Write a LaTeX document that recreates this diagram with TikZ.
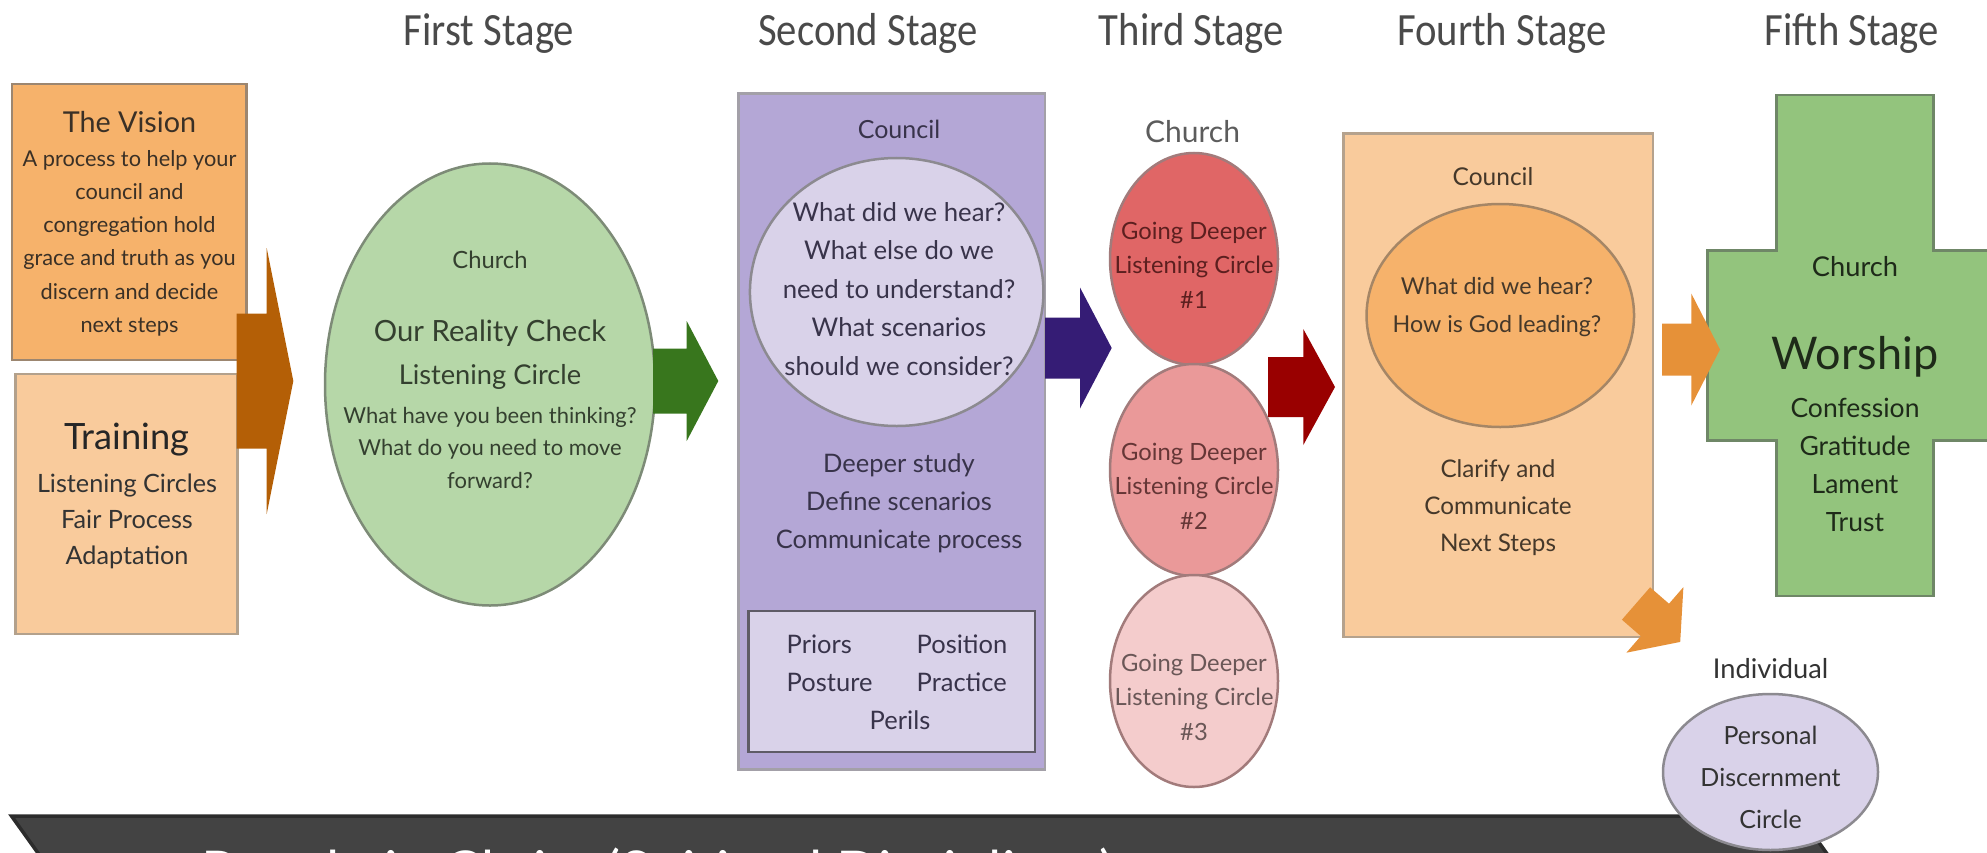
\documentclass[tikz,border=0pt]{standalone}
\usepackage{fontspec}
\setmainfont{Lato}
\newfontfamily\titlefont{Carlito}
\usetikzlibrary{shapes.geometric}
\newcommand\setfs[2]{\fontsize{#1}{#2}\selectfont}
\newcommand\blockarrow[7]{\fill[#1] (#2,#3-#4) -- (#5,#3-#4) -- (#5,#3-#6) -- (#7,#3) -- (#5,#3+#6) -- (#5,#3+#4) -- (#2,#3+#4) -- cycle;}
\definecolor{visionfill}{HTML}{F6B26B}
\definecolor{visionline}{HTML}{9C8670}
\definecolor{trainfill}{HTML}{F9CB9C}
\definecolor{trainline}{HTML}{B3A18C}
\definecolor{brownarrow}{HTML}{B45F06}
\definecolor{greenfill}{HTML}{B6D7A8}
\definecolor{greenline}{HTML}{7D8B77}
\definecolor{greenarrow}{HTML}{38761D}
\definecolor{purplefill}{HTML}{B4A7D6}
\definecolor{purpleline}{HTML}{A3A0A8}
\definecolor{lilac}{HTML}{D9D2E9}
\definecolor{lilacline}{HTML}{8C8A90}
\definecolor{rectline}{HTML}{5E5B66}
\definecolor{purplearrow}{HTML}{351C75}
\definecolor{redA}{HTML}{E06666}
\definecolor{redB}{HTML}{EA9999}
\definecolor{redC}{HTML}{F4CCCC}
\definecolor{redline}{HTML}{A27B7B}
\definecolor{redarrow}{HTML}{990000}
\definecolor{peach}{HTML}{F9CB9C}
\definecolor{peachline}{HTML}{B5A28D}
\definecolor{orangefill}{HTML}{F6B26B}
\definecolor{orangeline}{HTML}{A58666}
\definecolor{orangearrow}{HTML}{E69138}
\definecolor{crossfill}{HTML}{93C47D}
\definecolor{crossline}{HTML}{6F8767}
\definecolor{barfill}{HTML}{434343}
\definecolor{barline}{HTML}{2C2C2C}
\definecolor{titlegray}{HTML}{4A4A4A}
\definecolor{txt}{HTML}{333333}
\definecolor{visiontxt}{HTML}{3A3026}
\definecolor{greentxt}{HTML}{34402F}
\definecolor{purpletxt}{HTML}{38334A}
\definecolor{redtxtA}{HTML}{5C1F1F}
\definecolor{redtxtB}{HTML}{653636}
\definecolor{redtxtC}{HTML}{6A5757}
\definecolor{peachtxt}{HTML}{45382A}
\definecolor{crosstxt}{HTML}{1E2A19}
\begin{document}
\begin{tikzpicture}[x=0.4pt,y=-0.4pt,
  shp/.style={inner sep=0pt,outer sep=0pt,line width=1pt},
  lbl/.style={inner sep=0pt,outer sep=0pt,align=center,text=txt},
  stagetitle/.style={lbl,anchor=base,text=titlegray,font=\titlefont\setfs{18.5pt}{22pt}},
]
\path[use as bounding box] (0,0) rectangle (1987,853);
\clip (0,0) rectangle (1987,853);

% ---------- stage titles
\node[stagetitle] (t1) at (489,46) {\scalebox{0.88}[1]{First Stage}};
\node[stagetitle] (t2) at (868,46) {\scalebox{0.88}[1]{Second Stage}};
\node[stagetitle] (t3) at (1191.5,46) {\scalebox{0.88}[1]{Third Stage}};
\node[stagetitle] (t4) at (1502,46) {\scalebox{0.88}[1]{Fourth Stage}};
\node[stagetitle] (t5) at (1852,46) {\scalebox{0.88}[1]{Fifth Stage}};

% ---------- shapes
\node[shp,rectangle,draw=visionline,fill=visionfill,minimum width=93.9pt,minimum height=110.4pt] (vision) at (129.35,222) {};
\node[shp,rectangle,draw=trainline,fill=trainfill,minimum width=88.6pt,minimum height=104pt] (training) at (126.5,504) {};
\node[shp,ellipse,draw=greenline,fill=greenfill,minimum width=132pt,minimum height=176.8pt] (reality) at (490,384.5) {};
\node[shp,rectangle,draw=purpleline,fill=purplefill,minimum width=122.7pt,minimum height=270.5pt] (council2) at (891.65,431.55) {};
\node[shp,ellipse,draw=lilacline,fill=lilac,minimum width=117.4pt,minimum height=107.2pt] (questions2) at (896.7,292) {};
\node[shp,rectangle,draw=rectline,fill=lilac,minimum width=114.7pt,minimum height=56.4pt] (fivep) at (891.65,681.45) {};
\node[shp,ellipse,draw=redline,fill=redA,minimum width=67.2pt,minimum height=84.8pt] (circle1) at (1194,259) {};
\node[shp,ellipse,draw=redline,fill=redB,minimum width=67.2pt,minimum height=84.8pt] (circle2) at (1194,470) {};
\node[shp,ellipse,draw=redline,fill=redC,minimum width=67.2pt,minimum height=84.8pt] (circle3) at (1194,681) {};
\node[shp,rectangle,draw=peachline,fill=peach,minimum width=123.8pt,minimum height=201.4pt] (council4) at (1498,385.25) {};
\node[shp,ellipse,draw=orangeline,fill=orangefill,minimum width=107pt,minimum height=89.2pt] (questions4) at (1500.3,315.5) {};
\draw[line width=1pt,draw=crossline,fill=crossfill]
  (1776.3,95.2) -- (1933.5,95.2) -- (1933.5,250.3) -- (2002,250.3) -- (2002,440.7)
  -- (1933.5,440.7) -- (1933.5,595.8) -- (1776.3,595.8) -- (1776.3,440.7)
  -- (1707.7,440.7) -- (1707.7,250.3) -- (1776.3,250.3) -- cycle;
\coordinate (worship) at (1854.9,345.5);
\draw[line width=1.4pt,draw=barline,fill=barfill]
  (11.5,816) -- (1800,816) -- (1841.5,874) -- (1800,932) -- (11.5,932) -- (53,874) -- cycle;
\node[shp,ellipse,draw=lilacline,fill=lilac,minimum width=86pt,minimum height=62.4pt] (personal) at (1770.5,772) {};

% ---------- block arrows
\blockarrow{brownarrow}{236.7}{381}{67.5}{266.7}{133}{293.3}
\blockarrow{greenarrow}{653}{381}{32.5}{686.7}{60}{718.3}
\blockarrow{purplearrow}{1045}{348}{30.5}{1080}{60.5}{1111.7}
\blockarrow{redarrow}{1268}{387}{30}{1303.3}{58}{1335}
\blockarrow{orangearrow}{1662}{349.5}{26}{1691.3}{56}{1720}
\fill[orangearrow] (1650.1,587.3) -- (1669,603.7) -- (1683.4,587.1) -- (1680.2,641.9)
  -- (1626.4,652.7) -- (1640.8,636.1) -- (1621.9,619.7) -- cycle;

% ---------- texts
\node[lbl,text=visiontxt,font=\setfs{11.5pt}{14pt}] (visiontitle) at (129.5,121.8) {The Vision};
\node[lbl,text=visiontxt,font=\setfs{8.7pt}{13.3pt}] (visiontext) at (129.5,243) {A process to help your\\council and\\congregation hold\\grace and truth as you\\discern and decide\\next steps};
\node[lbl,text=black!85,font=\setfs{14.5pt}{17pt}] (trainingtitle) at (127,440) {Training};
\node[lbl,font=\setfs{10.1pt}{14.4pt}] (trainingtext) at (127,521.7) {Listening Circles\\Fair Process\\Adaptation};

\node[lbl,text=greentxt,font=\setfs{9.5pt}{12pt}] (church1) at (490,260) {Church};
\node[lbl,text=greentxt,font=\setfs{11.7pt}{14pt}] (orc) at (490,333.3) {Our Reality Check};
\node[lbl,text=greentxt,font=\setfs{10.9pt}{14pt}] (lc) at (490,376.7) {Listening Circle};
\node[lbl,text=greentxt,font=\setfs{8.8pt}{13pt}] (q1) at (490,447.8) {What have you been thinking?\\What do you need to move\\forward?};

\node[lbl,text=purpletxt,font=\setfs{10pt}{12pt}] (councilA) at (899,129) {Council};
\node[lbl,text=purpletxt,font=\setfs{10.3pt}{15.4pt}] (q2) at (899,288.7) {What did we hear?\\What else do we\\need to understand?\\What scenarios\\should we consider?};
\node[lbl,text=purpletxt,font=\setfs{10.2pt}{15.2pt}] (study) at (899,503.3) {Deeper study\\Define scenarios\\Communicate process};
\node[lbl,text=purpletxt,anchor=west,font=\setfs{10.2pt}{12pt}] (priors) at (786.7,644.7) {Priors};
\node[lbl,text=purpletxt,anchor=west,font=\setfs{10.2pt}{12pt}] (position) at (916.7,644.7) {Position};
\node[lbl,text=purpletxt,anchor=west,font=\setfs{10.2pt}{12pt}] (posture) at (786.7,682.7) {Posture};
\node[lbl,text=purpletxt,anchor=west,font=\setfs{10.2pt}{12pt}] (practice) at (916.7,682.7) {Practice};
\node[lbl,text=purpletxt,font=\setfs{10.2pt}{12pt}] (perils) at (900,720.6) {Perils};

\node[lbl,text=txt!80,font=\setfs{12pt}{14pt}] (church3) at (1192.5,131.3) {Church};
\node[lbl,text=redtxtA,font=\setfs{9.5pt}{13.8pt}] (gd1) at (1194,265) {Going Deeper\\Listening Circle\\\#1};
\node[lbl,text=redtxtB,font=\setfs{9.5pt}{13.8pt}] (gd2) at (1194,486) {Going Deeper\\Listening Circle\\\#2};
\node[lbl,text=redtxtC,font=\setfs{9.5pt}{13.8pt}] (gd3) at (1194,697) {Going Deeper\\Listening Circle\\\#3};

\node[lbl,text=peachtxt,font=\setfs{9.8pt}{12pt}] (councilB) at (1493,176.8) {Council};
\node[lbl,text=peachtxt,font=\setfs{9.3pt}{15.2pt}] (q4) at (1497,307.4) {What did we hear?\\How is God leading?};
\node[lbl,text=peachtxt,font=\setfs{9.7pt}{14.7pt}] (clarify) at (1498,507.8) {Clarify and\\Communicate\\Next Steps};

\node[lbl,text=crosstxt,font=\setfs{10.9pt}{13pt}] (church5) at (1855,266.6) {Church};
\node[lbl,text=crosstxt,font=\setfs{18pt}{21pt}] (worshiptitle) at (1855,356.4) {Worship};
\node[lbl,text=crosstxt,font=\setfs{10.6pt}{15.2pt}] (worshiplist) at (1855,465) {Confession\\Gratitude\\Lament\\Trust};

\node[lbl,font=\setfs{10.9pt}{13pt}] (individual) at (1770.6,669) {Individual};
\node[lbl,font=\setfs{10pt}{16.8pt}] (personaltext) at (1770.5,777) {Personal\\Discernment\\Circle};

\node[inner sep=0pt,anchor=base west,text=white,font=\setfs{22.5pt}{26pt}] (bartext) at (201,891) {People in Christ (Spiritual Disciplines)};
\end{tikzpicture}
\end{document}
